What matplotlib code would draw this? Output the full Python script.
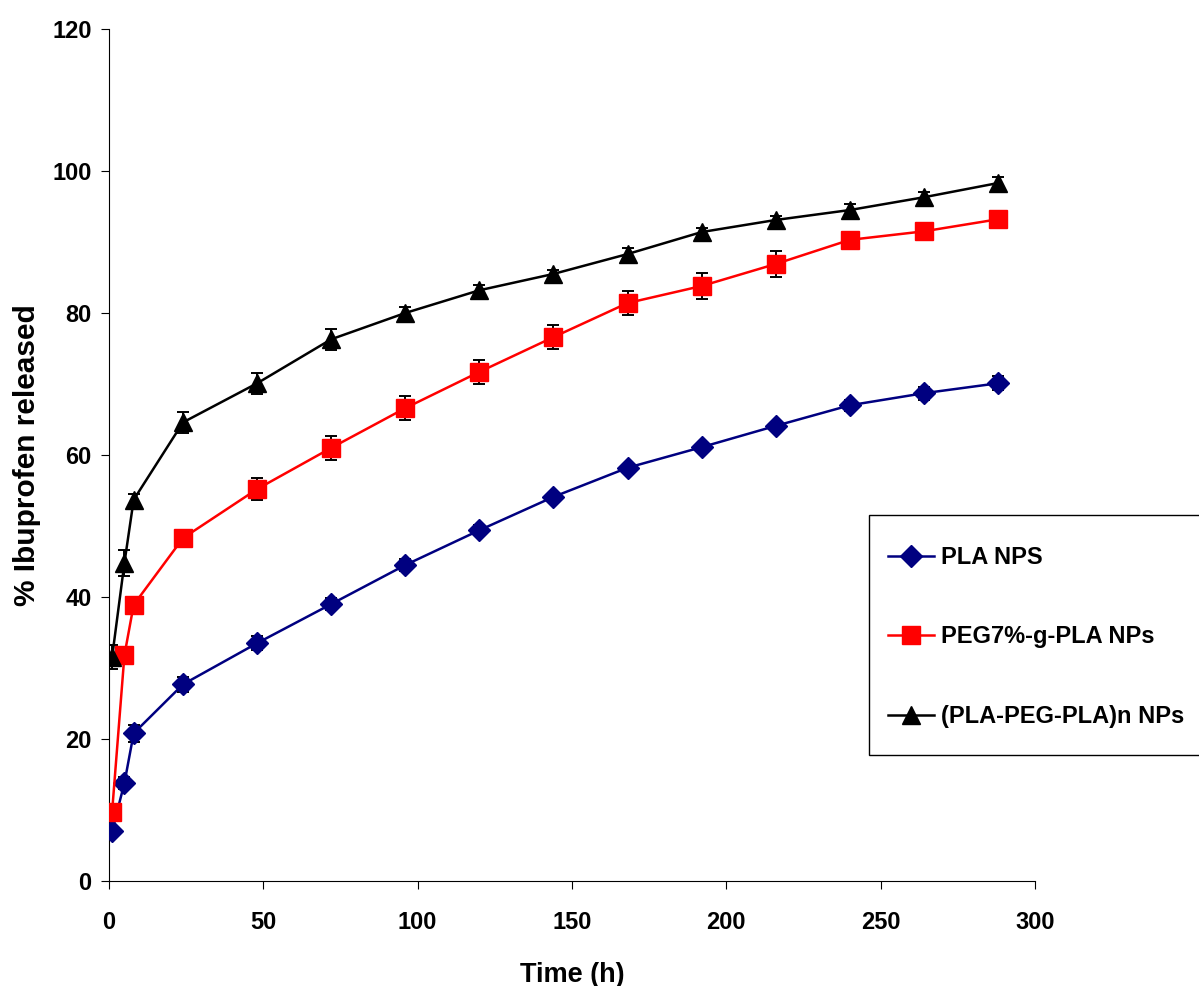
import matplotlib
matplotlib.use("Agg")
import matplotlib.pyplot as plt
from matplotlib.patches import Rectangle

plt.rcParams['font.family'] = ['Liberation Sans', 'DejaVu Sans']
plt.rcParams['font.weight'] = 'bold'

# release time points (h)
time_h = [1, 5, 8, 24, 48, 72, 96, 120, 144, 168, 192, 216, 240, 264, 288]

pla = [7.0, 13.8, 20.8, 27.7, 33.5, 39.0, 44.5, 49.4, 54.1, 58.2, 61.1, 64.1, 67.0, 68.7, 70.1]
pla_err = [0.5, 0.8, 1.2, 1.1, 1.0, 0.8, 0.8, 0.7, 0.6, 0.5, 0.6, 0.6, 0.8, 0.9, 1.0]

peg_g = [9.7, 31.8, 38.9, 48.3, 55.2, 61.0, 66.6, 71.7, 76.6, 81.4, 83.8, 86.9, 90.3, 91.5, 93.2]
peg_g_err = [0.3, 0.3, 0.5, 0.4, 1.5, 1.7, 1.7, 1.7, 1.7, 1.7, 1.8, 1.8, 1.0, 1.0, 0.5]

triblock = [31.5, 44.8, 53.7, 64.6, 70.1, 76.3, 80.0, 83.2, 85.5, 88.3, 91.4, 93.1, 94.5, 96.3, 98.3]
triblock_err = [1.7, 1.8, 0.8, 1.5, 1.5, 1.5, 0.8, 0.8, 0.6, 0.8, 0.6, 0.6, 0.8, 0.8, 0.8]

labels = ['PLA NPS', 'PEG7%-g-PLA NPs', '(PLA-PEG-PLA)n NPs']

fig = plt.figure(figsize=(11.99, 9.86), dpi=100)
ax = fig.add_axes([0.0909, 0.1065, 0.7723, 0.8641])

series = [
    (pla, pla_err, '#000080', 'D', 11.5),
    (peg_g, peg_g_err, '#ff0000', 's', 13),
    (triblock, triblock_err, '#000000', '^', 12.5),
]
handles = []
for (y, e, c, m, ms), lab in zip(series, labels):
    ax.errorbar(time_h, y, yerr=e, fmt='none', ecolor='black', elinewidth=1.4,
                capsize=4.5, capthick=1.4, zorder=2)
    h, = ax.plot(time_h, y, color=c, marker=m, markersize=ms, linewidth=1.8,
                 markeredgecolor=c, label=lab, zorder=3)
    handles.append(h)

ax.set_xlim(0, 300)
ax.set_ylim(0, 120)
ax.set_xticks(range(0, 301, 50))
ax.set_yticks(range(0, 121, 20))
ax.spines['top'].set_visible(False)
ax.spines['right'].set_visible(False)
ax.tick_params(direction='out', length=5.5, labelsize=17)
ax.tick_params(axis='x', pad=16)
ax.tick_params(axis='y', pad=7)
for t in ax.get_xticklabels() + ax.get_yticklabels():
    t.set_fontweight('bold')

ax.set_xlabel('Time (h)', fontsize=19.5, fontweight='bold', labelpad=20)
ax.set_ylabel('% Ibuprofen released', fontsize=21.5, fontweight='bold', labelpad=8)

# legend frame runs off the right edge, so draw it separately
fig.patches.append(Rectangle((0.7248, 0.2343), 0.30, 0.2434, transform=fig.transFigure,
                             facecolor='white', edgecolor='black', linewidth=1.0))
leg = fig.legend(handles=handles, loc='center left', bbox_to_anchor=(0.7406, 0.354),
                 frameon=False, labelspacing=2.4, borderpad=0, borderaxespad=0,
                 handlelength=1.95, handletextpad=0.3,
                 prop={'weight': 'bold', 'size': 17})

fig.savefig('out.png', dpi=100)
